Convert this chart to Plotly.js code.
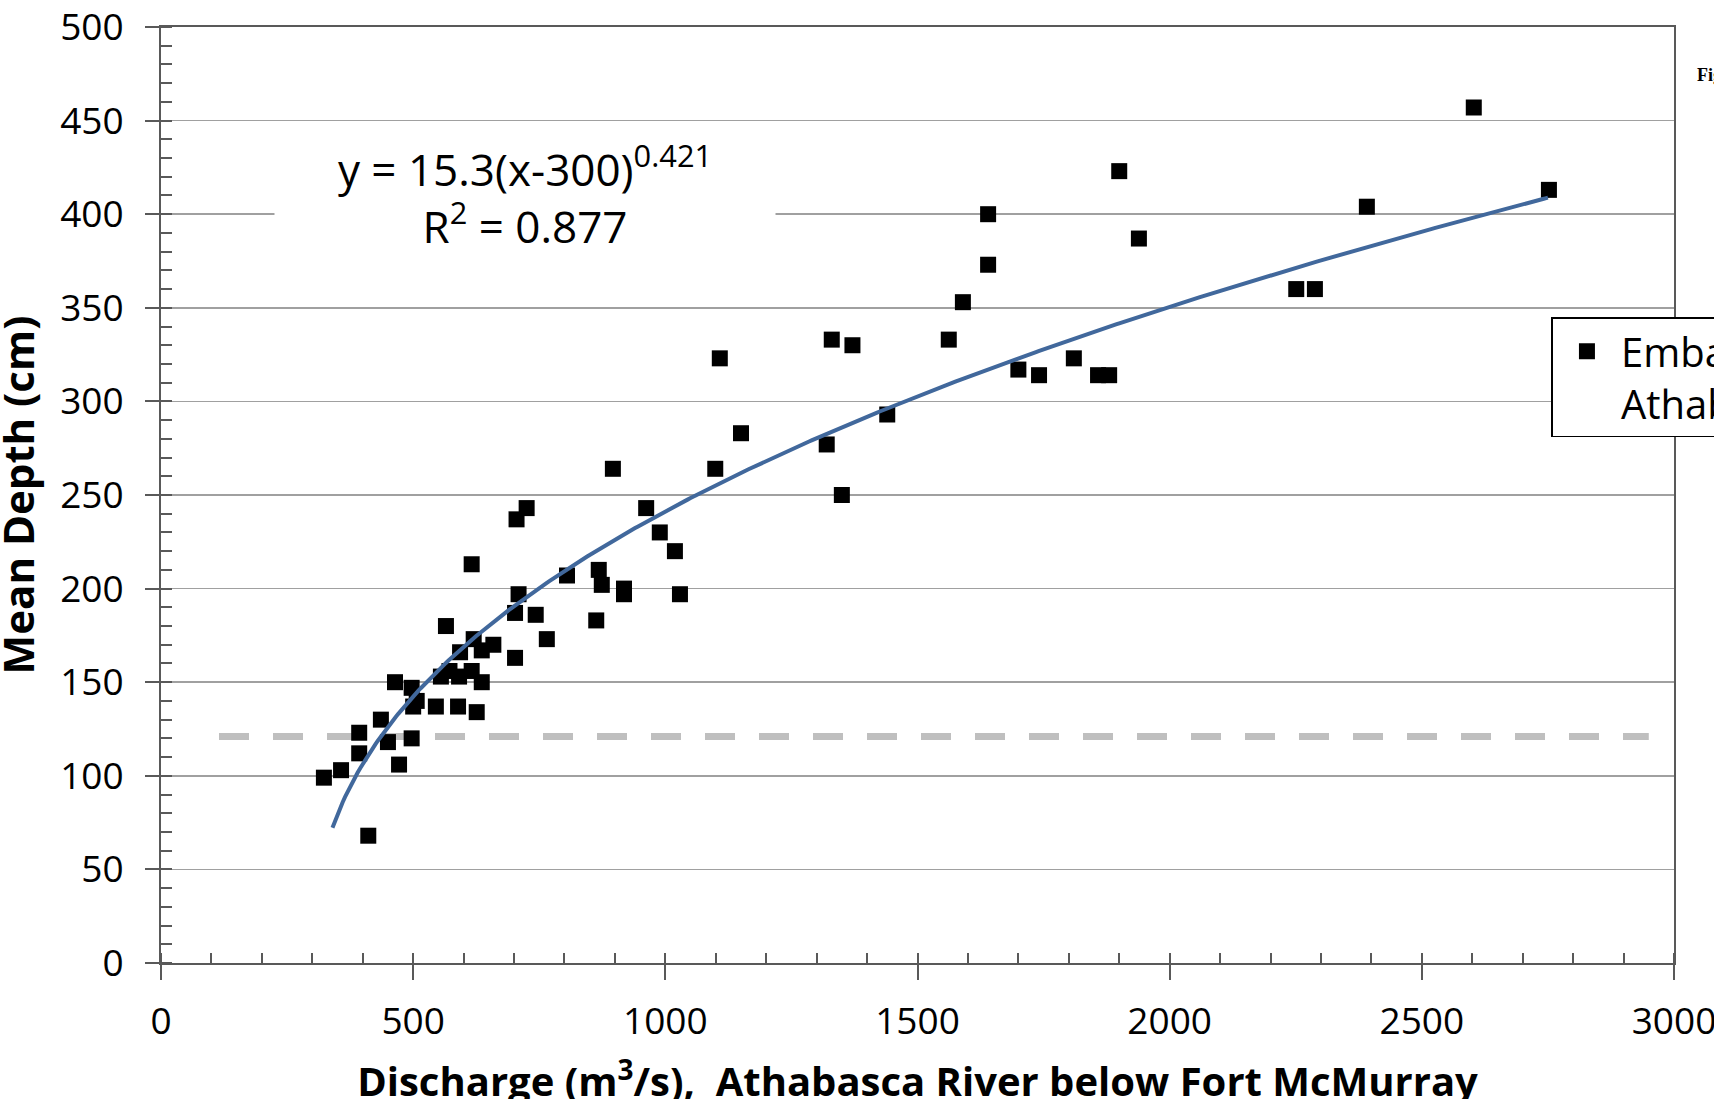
<!DOCTYPE html>
<html>
<head>
<meta charset="utf-8">
<script src="https://cdn.plot.ly/plotly-3.0.1.min.js"></script>
<style>
  html, body { margin: 0; padding: 0; overflow: hidden; background: #ffffff; width: 1714px; height: 1099px; }
  #chart { position: absolute; left: -100px; top: 0; width: 2100px; height: 1160px; }
</style>
</head>
<body>
<div id="chart"></div>
<script>
// Observed points: discharge (m3/s) and mean depth (cm)
const discharge = [323, 357, 393, 393, 411, 436, 450, 464, 472, 497, 497, 500, 507, 545, 555, 565, 572, 589, 591, 593,
  616, 616, 620, 626, 636, 636, 659, 702, 702, 705, 709, 725, 743, 765, 805, 863, 868, 874, 896, 918,
  918, 962, 989, 1019, 1029, 1099, 1108, 1150, 1320, 1330, 1350, 1371, 1440, 1562, 1590, 1640, 1640, 1700, 1741, 1810,
  1858, 1880, 1900, 1939, 2251, 2288, 2391, 2603, 2752];
const meanDepth = [99, 103, 112, 123, 68, 130, 118, 150, 106, 147, 120, 137, 140, 137, 153, 180, 156, 137, 153, 166,
  213, 156, 173, 134, 150, 167, 170, 163, 187, 237, 197, 243, 186, 173, 207, 183, 210, 202, 264, 200,
  197, 243, 230, 220, 197, 264, 323, 283, 277, 333, 250, 330, 293, 333, 353, 373, 400, 317, 314, 323,
  314, 314, 423, 387, 360, 360, 404, 457, 413];

// Trendline as printed on the chart: y = 15.3 (x - 300)^0.421
const fitCoef = 15.3;
const fitOffset = 300;
const fitExponent = 0.421;
const fitRange = [340, 2753];

// Horizontal reference depth line (dashed)
const refLineX = [115, 2950];
const refLineY = [121, 121];

const seriesName = 'Embarras<br>Athabasca';
const xTitle = 'Discharge (m<sup>3</sup>/s),  Athabasca River below Fort McMurray';
const yTitle = 'Mean Depth (cm)';
const eqText = 'y = 15.3(x-300)<sup>0.421</sup><br>R<sup>2</sup> = 0.877';

const fitX = [];
const fitY = [];
for (let x = fitRange[0]; x <= fitRange[1]; x += 5) {
  fitX.push(x);
  fitY.push(fitCoef * Math.pow(x - fitOffset, fitExponent));
}

const axisColor = '#595959';
const font = '"Open Sans", "Noto Sans", sans-serif';

const traces = [
  {
    x: refLineX, y: refLineY, type: 'scatter', mode: 'lines',
    line: { color: '#bfbfbf', width: 7, dash: '30px,24px' },
    showlegend: false, hoverinfo: 'skip'
  },
  {
    x: discharge, y: meanDepth, type: 'scatter', mode: 'markers',
    name: seriesName,
    marker: { symbol: 'square', size: 16, color: '#000000', line: { width: 0 } }
  },
  {
    x: fitX, y: fitY, type: 'scatter', mode: 'lines',
    line: { color: '#41689c', width: 4 },
    showlegend: false, hoverinfo: 'skip'
  }
];

const layout = {
  width: 2100, height: 1160,
  margin: { l: 261, r: 326, t: 27, b: 197, pad: 0 },
  paper_bgcolor: '#ffffff', plot_bgcolor: '#ffffff',
  font: { family: font, color: '#000000', size: 36 },
  showlegend: true,
  legend: {
    x: 0.919, y: 0.69, xanchor: 'left', yanchor: 'top',
    bgcolor: '#ffffff', bordercolor: '#000000', borderwidth: 1.5,
    font: { size: 40, family: font, color: '#000000' },
    itemwidth: 58, valign: 'top'
  },
  xaxis: {
    range: [0, 3000], tickmode: 'linear', tick0: 0, dtick: 500,
    ticks: 'outside', ticklen: 15, tickwidth: 2, tickcolor: axisColor,
    showline: true, linecolor: axisColor, linewidth: 2, mirror: true,
    showgrid: false, zeroline: false, automargin: false,
    minor: { tick0: 0, dtick: 100, ticks: 'inside', ticklen: 10, tickwidth: 2, tickcolor: axisColor, showgrid: false },
    tickfont: { size: 37, family: font, color: '#000000' },
    ticklabelstandoff: 10, ticklabeloverflow: 'allow',
    title: { text: xTitle, font: { size: 40, family: font, color: '#000000', weight: 700 }, standoff: 24 }
  },
  yaxis: {
    range: [0, 500], tickmode: 'linear', tick0: 0, dtick: 50,
    ticks: 'outside', ticklen: 14, tickwidth: 2, tickcolor: axisColor,
    showline: true, linecolor: axisColor, linewidth: 2, mirror: true,
    showgrid: true, gridcolor: '#a0a0a0', gridwidth: 1.5, zeroline: false, automargin: false,
    minor: { tick0: 0, dtick: 10, ticks: 'inside', ticklen: 11, tickwidth: 2, tickcolor: axisColor, showgrid: false },
    tickfont: { size: 37, family: font, color: '#000000' },
    ticklabelstandoff: 14, ticklabeloverflow: 'allow',
    title: { text: yTitle, font: { size: 42, family: font, color: '#000000', weight: 700 }, standoff: 12 }
  },
  annotations: [
    {
      xref: 'x', yref: 'y', x: 722, y: 410, text: eqText, showarrow: false,
      xanchor: 'center', yanchor: 'middle', align: 'center',
      width: 500, height: 110, bgcolor: '#ffffff', borderpad: 0,
      font: { size: 44, family: font, color: '#000000' }
    },
    {
      xref: 'paper', yref: 'paper', x: 1.0139, y: 0.949, text: '<b>Figure</b>', showarrow: false,
      xanchor: 'left', yanchor: 'middle',
      font: { size: 18, family: '"Liberation Serif", "DejaVu Serif", serif', color: '#000000' }
    }
  ]
};

Plotly.newPlot('chart', traces, layout, { displayModeBar: false, staticPlot: true });
</script>
</body>
</html>
